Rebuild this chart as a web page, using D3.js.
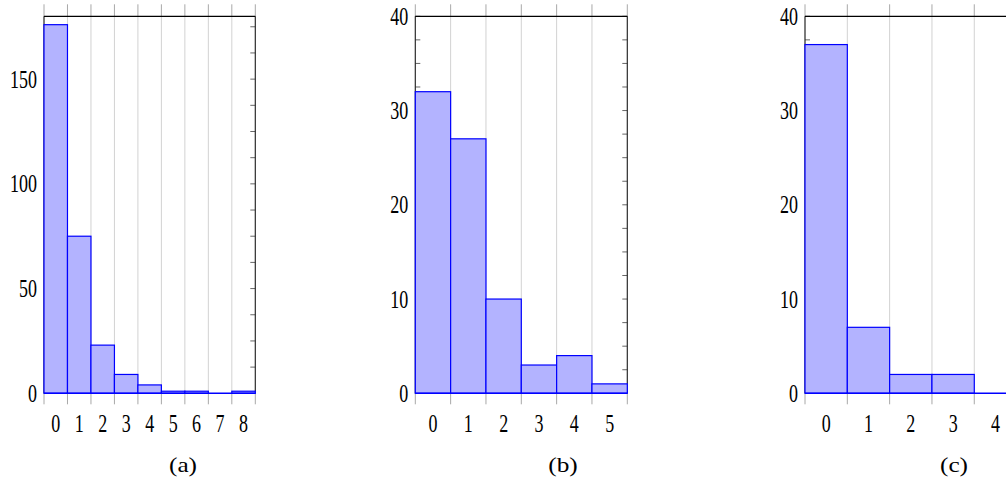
<!DOCTYPE html>
<html>
<head>
<meta charset="utf-8">
<script src="https://cdn.jsdelivr.net/npm/d3@7"></script>
<style>
  html, body { margin: 0; padding: 0; background: #fff; }
  svg { display: block; }
</style>
</head>
<body>
<svg id="chart" width="1006" height="481"></svg>
<script>
// ---- data ----
const catsA = ["0", "1", "2", "3", "4", "5", "6", "7", "8"];
const valuesA = [176, 75, 23, 9, 4, 1, 1, 0, 1];
const yTicksA = [0, 50, 100, 150];

const catsB = ["0", "1", "2", "3", "4", "5"];
const valuesB = [32, 27, 10, 3, 4, 1];
const yTicksB = [0, 10, 20, 30, 40];

const catsC = ["0", "1", "2", "3", "4"];
const valuesC = [37, 7, 2, 2, 0];
const yTicksC = [0, 10, 20, 30, 40];

const captions = ["(a)", "(b)", "(c)"];

// ---- layout ----
const FONT = "'Liberation Serif', 'Times New Roman', serif";
const svg = d3.select("#chart");
const plotTop = 16.3, plotBottom = 393.3;
const panels = [
  { cats: catsA, vals: valuesA, ticks: yTicksA, ymax: 180, minor: 12.5, x0: 44, x1: 255.3, cap: captions[0], capX: 183 },
  { cats: catsB, vals: valuesB, ticks: yTicksB, ymax: 40, minor: 2.5, x0: 415.3, x1: 627.3, cap: captions[1], capX: 563 },
  { cats: catsC, vals: valuesC, ticks: yTicksC, ymax: 40, minor: 2.5, x0: 805, x1: 1016.6, cap: captions[2], capX: 954 }
];

const FS = 18, STRETCH = 1.42;

panels.forEach(p => {
  const g = svg.append("g");
  const x = d3.scaleBand().domain(p.cats).range([p.x0, p.x1]).paddingInner(0).paddingOuter(0);
  const y = d3.scaleLinear().domain([0, p.ymax]).range([plotBottom, plotTop]);
  const edges = p.cats.map(c => x(c)).concat([p.x1]);

  // grid lines (inner) and tick extensions (outer)
  g.selectAll("line.grid").data(edges).join("line")
    .attr("x1", d => d).attr("x2", d => d)
    .attr("y1", plotTop).attr("y2", plotBottom)
    .attr("stroke", "#d2d2d2").attr("stroke-width", 1);
  g.selectAll("line.xtickTop").data(edges).join("line")
    .attr("x1", d => d).attr("x2", d => d)
    .attr("y1", plotTop - 12).attr("y2", plotTop)
    .attr("stroke", "#a8a8a8").attr("stroke-width", 1);
  g.selectAll("line.xtickBot").data(edges).join("line")
    .attr("x1", d => d).attr("x2", d => d)
    .attr("y1", plotBottom).attr("y2", plotBottom + 11)
    .attr("stroke", "#a8a8a8").attr("stroke-width", 1);

  // y ticks (minor + major), inward on both sides
  const yt = d3.range(0, p.ymax + 0.001, p.minor);
  g.selectAll("line.ytl").data(yt).join("line")
    .attr("x1", p.x0).attr("x2", p.x0 + 5)
    .attr("y1", d => y(d)).attr("y2", d => y(d))
    .attr("stroke", "#666").attr("stroke-width", 1);
  g.selectAll("line.ytr").data(yt).join("line")
    .attr("x1", p.x1 - 5).attr("x2", p.x1)
    .attr("y1", d => y(d)).attr("y2", d => y(d))
    .attr("stroke", "#666").attr("stroke-width", 1);

  // axis box: left, right, top
  g.append("line").attr("x1", p.x0).attr("x2", p.x0).attr("y1", plotTop).attr("y2", plotBottom)
    .attr("stroke", "#222").attr("stroke-width", 1.1);
  g.append("line").attr("x1", p.x1).attr("x2", p.x1).attr("y1", plotTop).attr("y2", plotBottom)
    .attr("stroke", "#222").attr("stroke-width", 1.1);
  g.append("line").attr("x1", p.x0).attr("x2", p.x1).attr("y1", plotTop).attr("y2", plotTop)
    .attr("stroke", "#000").attr("stroke-width", 1.2);

  // bars
  g.selectAll("rect.bar").data(p.cats.map((c, i) => ({ c, v: p.vals[i] })).filter(d => d.v > 0)).join("rect")
    .attr("x", d => x(d.c)).attr("width", x.bandwidth())
    .attr("y", d => y(d.v)).attr("height", d => y(0) - y(d.v))
    .attr("fill", "#b3b3ff").attr("stroke", "#0000ff").attr("stroke-width", 1.2);

  // baseline
  g.append("line").attr("x1", p.x0).attr("x2", p.x1).attr("y1", y(0)).attr("y2", y(0))
    .attr("stroke", "#0000ff").attr("stroke-width", 1.4);

  // y labels
  g.selectAll("text.yl").data(p.ticks).join("text")
    .attr("text-anchor", "end")
    .attr("font-family", FONT)
    .attr("font-size", FS)
    .attr("fill", "#000")
    .attr("transform", d => `translate(${p.x0 - 7},${y(d) + 8.5}) scale(1,${STRETCH})`)
    .text(d => d);

  // x labels
  g.selectAll("text.xl").data(p.cats).join("text")
    .attr("text-anchor", "middle")
    .attr("font-family", FONT)
    .attr("font-size", FS)
    .attr("fill", "#000")
    .attr("transform", d => `translate(${x(d) + x.bandwidth() / 2},${431.5}) scale(1,${STRETCH})`)
    .text(d => d);

  // caption
  g.append("text")
    .attr("text-anchor", "middle")
    .attr("font-family", FONT)
    .attr("font-size", 22)
    .attr("fill", "#000")
    .attr("transform", `translate(${p.capX},472) scale(1.15,1)`)
    .text(p.cap);
});
</script>
</body>
</html>
